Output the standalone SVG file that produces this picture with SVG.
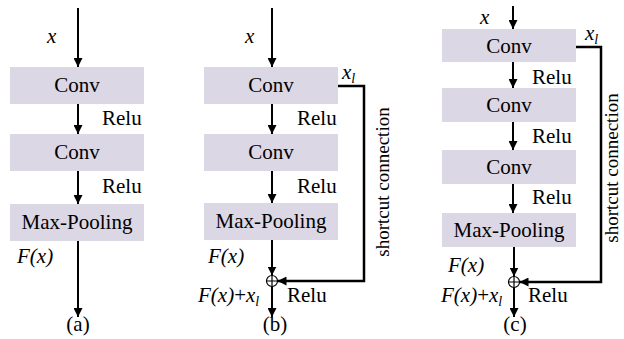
<svg xmlns="http://www.w3.org/2000/svg" width="624" height="339" viewBox="0 0 624 339" font-family="'Liberation Serif', 'DejaVu Serif', serif">
<defs>
<marker id="ah" viewBox="0 0 10 10" refX="10" refY="5" markerWidth="9" markerHeight="9" markerUnits="userSpaceOnUse" orient="auto"><path d="M0,0 L10,5 L0,10 z" fill="#000"/></marker>
</defs>
<style>
.box{fill:#DCD7E4;stroke:none}
.t{font-size:21px;fill:#000}
.c{text-anchor:middle}
.i{font-style:italic}
.s{font-size:19px;fill:#000;text-anchor:middle}
.a{stroke:#000;stroke-width:2;fill:none;marker-end:url(#ah)}
.sc{stroke:#000;stroke-width:2.5;fill:none;marker-end:url(#ah)}
.o{stroke:#000;stroke-width:1.2;fill:none}
</style>
<rect width="624" height="339" fill="#fff"/>

<!-- Panel (a) -->
<g id="a-conv1"><rect class="box" x="10" y="67" width="134" height="37"/><text class="t c" x="77" y="92">Conv</text></g>
<g id="a-conv2"><rect class="box" x="10" y="134" width="134" height="37"/><text class="t c" x="77" y="159">Conv</text></g>
<g id="a-pool"><rect class="box" x="10" y="204" width="134" height="37"/><text class="t c" x="77" y="229">Max-Pooling</text></g>
<g id="a-labels">
<text class="t i" x="47" y="43">x</text>
<text class="t" x="102" y="125">Relu</text>
<text class="t" x="102" y="193">Relu</text>
<text class="t i" x="17" y="263">F(x)</text>
<text class="t c" x="78" y="331">(a)</text>
</g>

<!-- Panel (b) -->
<g id="b-conv1"><rect class="box" x="204" y="67" width="134" height="37"/><text class="t c" x="271" y="92">Conv</text></g>
<g id="b-conv2"><rect class="box" x="204" y="134" width="134" height="37"/><text class="t c" x="271" y="159">Conv</text></g>
<g id="b-pool"><rect class="box" x="204" y="203" width="134" height="37"/><text class="t c" x="271" y="228">Max-Pooling</text></g>
<g id="b-add"><circle class="o" cx="272" cy="281" r="5.5"/><path class="o" d="M266.5,281 H277.5 M272,275.5 V286.5"/></g>
<g id="b-labels">
<text class="t i" x="245" y="43">x</text>
<text class="t i" x="342" y="79">x<tspan font-size="14" dy="4">l</tspan></text>
<text class="t" x="297" y="125">Relu</text>
<text class="t" x="297" y="193">Relu</text>
<text class="t i" x="208" y="263">F(x)</text>
<text class="t" x="198" y="302"><tspan font-style="italic">F(x)</tspan>+<tspan font-style="italic">x</tspan><tspan font-style="italic" font-size="14" dy="4">l</tspan></text>
<text class="t" x="287" y="302">Relu</text>
<text class="s" transform="translate(389,182) rotate(-90)">shortcut connection</text>
<text class="t c" x="275" y="331">(b)</text>
</g>

<!-- Panel (c) -->
<g id="c-conv1"><rect class="box" x="442" y="29" width="134" height="33"/><text class="t c" x="509" y="53">Conv</text></g>
<g id="c-conv2"><rect class="box" x="442" y="88" width="134" height="34"/><text class="t c" x="509" y="112">Conv</text></g>
<g id="c-conv3"><rect class="box" x="442" y="150" width="134" height="34"/><text class="t c" x="509" y="174">Conv</text></g>
<g id="c-pool"><rect class="box" x="442" y="213" width="134" height="34"/><text class="t c" x="509" y="237">Max-Pooling</text></g>
<g id="c-add"><circle class="o" cx="514" cy="282" r="5.5"/><path class="o" d="M508.5,282 H519.5 M514,276.5 V287.5"/></g>
<g id="c-labels">
<text class="t i" x="480" y="24">x</text>
<text class="t i" x="585" y="40">x<tspan font-size="14" dy="4">l</tspan></text>
<text class="t" x="532" y="84">Relu</text>
<text class="t" x="532" y="143">Relu</text>
<text class="t" x="532" y="204">Relu</text>
<text class="t i" x="448" y="272">F(x)</text>
<text class="t" x="441" y="302"><tspan font-style="italic">F(x)</tspan>+<tspan font-style="italic">x</tspan><tspan font-style="italic" font-size="14" dy="4">l</tspan></text>
<text class="t" x="528" y="302">Relu</text>
<text class="s" transform="translate(618,168) rotate(-90)">shortcut connection</text>
<text class="t c" x="515" y="331">(c)</text>
</g>

<!-- Connectors -->
<g id="connectors">
<line class="a" x1="78" y1="8" x2="78" y2="67"/>
<line class="a" x1="78" y1="104" x2="78" y2="134"/>
<line class="a" x1="78" y1="171" x2="78" y2="204"/>
<line class="a" x1="78" y1="241" x2="78" y2="317"/>

<line class="a" x1="272" y1="8" x2="272" y2="67"/>
<line class="a" x1="272" y1="104" x2="272" y2="134"/>
<line class="a" x1="272" y1="171" x2="272" y2="203"/>
<line class="a" x1="272" y1="240" x2="272" y2="275.5"/>
<line class="a" x1="272" y1="286.5" x2="272" y2="317"/>
<path class="sc" d="M338,86 H364 V281 H277.5"/>

<line class="a" x1="513" y1="6" x2="513" y2="29"/>
<line class="a" x1="513" y1="62" x2="513" y2="88"/>
<line class="a" x1="513" y1="122" x2="513" y2="150"/>
<line class="a" x1="513" y1="184" x2="513" y2="213"/>
<line class="a" x1="514" y1="247" x2="514" y2="276.5"/>
<line class="a" x1="514" y1="287.5" x2="514" y2="317"/>
<path class="sc" d="M576,47 H601 V282 H519.5"/>
</g>
</svg>
